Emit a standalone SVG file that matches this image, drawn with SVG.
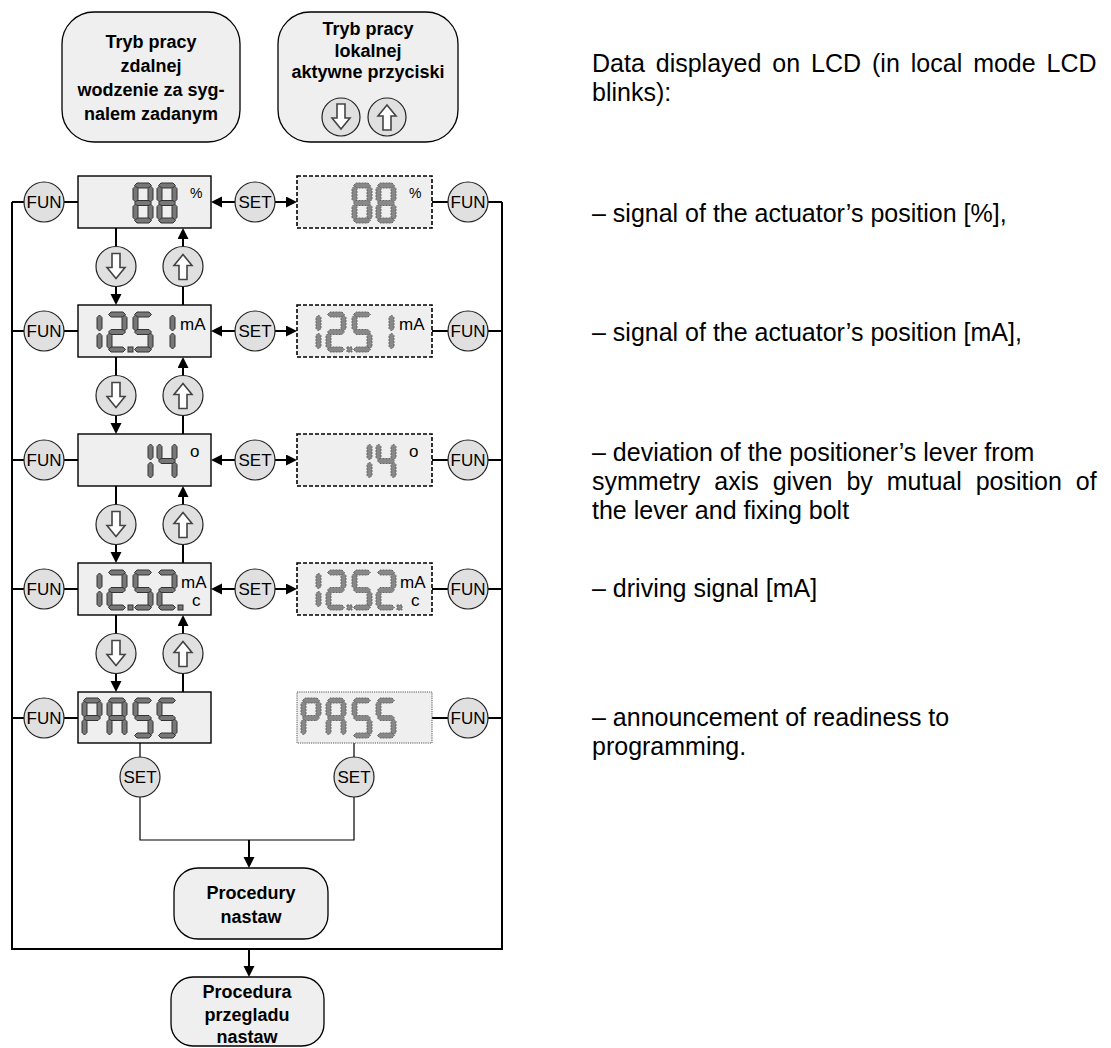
<svg xmlns="http://www.w3.org/2000/svg" xmlns:xlink="http://www.w3.org/1999/xlink" width="1111" height="1048" viewBox="0 0 1111 1048">
  <style>
    .txt{font-family:"Liberation Sans",Arial,Helvetica,sans-serif;fill:#000}
    .title{font-weight:bold;font-size:18px;text-anchor:middle}
    .mode{fill:#efefef;stroke:#000;stroke-width:1.3}
    .lcd{fill:#efefef;stroke:#000;stroke-width:1.4}
    .lcd-blink{fill:#efefef;stroke:#000;stroke-width:1.6;stroke-dasharray:4 2}
    .lcd-dot{fill:#efefef;stroke:#555;stroke-width:1;stroke-dasharray:1.2 1}
    .btn{fill:#e0e0e0;stroke:#222;stroke-width:1.2}
    .btn-t{font-size:17px;text-anchor:middle}
    .seg-on{fill:#777;stroke:#333;stroke-width:1}
    .seg-blink{fill:#888;stroke:#666;stroke-width:1;stroke-dasharray:2 1}
    .unit{font-size:17px}
    .pct{font-size:14px}
    .desc{font-size:25px}
    .wire{stroke:#000;stroke-width:2;fill:none}
    .wire-thin{stroke:#000;stroke-width:1.2;fill:none}
    .ico{fill:#fff;stroke:#444;stroke-width:1.6;stroke-linejoin:miter}
  </style>
  <defs>
    <marker id="ah" markerUnits="userSpaceOnUse" markerWidth="12" markerHeight="12" refX="9" refY="5.5" orient="auto">
      <path d="M0,0 L11,5.5 L0,11 z" fill="#000"/>
    </marker>
    <!-- seven-segment pieces, cell 20 x 40 -->
    <path id="sa" d="M1.5,2.5 L4,0 H16 L18.5,2.5 L16,5 H4 z"/>
    <path id="sg" d="M1.5,20 L4,17.5 H16 L18.5,20 L16,22.5 H4 z"/>
    <path id="sd" d="M1.5,37.5 L4,35 H16 L18.5,37.5 L16,40 H4 z"/>
    <path id="sf" d="M2.5,3 L5,5.5 V16.5 L2.5,19 L0,16.5 V5.5 z"/>
    <path id="sb" d="M17.5,3 L20,5.5 V16.5 L17.5,19 L15,16.5 V5.5 z"/>
    <path id="se" d="M2.5,21 L5,23.5 V34.5 L2.5,37 L0,34.5 V23.5 z"/>
    <path id="sc" d="M17.5,21 L20,23.5 V34.5 L17.5,37 L15,34.5 V23.5 z"/>
    <g id="g1"><use href="#sb"/><use href="#sc"/></g>
    <g id="g2"><use href="#sa"/><use href="#sb"/><use href="#sg"/><use href="#se"/><use href="#sd"/></g>
    <g id="g4"><use href="#sf"/><use href="#sg"/><use href="#sb"/><use href="#sc"/></g>
    <g id="g5"><use href="#sa"/><use href="#sf"/><use href="#sg"/><use href="#sc"/><use href="#sd"/></g>
    <g id="g8"><use href="#sa"/><use href="#sb"/><use href="#sc"/><use href="#sd"/><use href="#se"/><use href="#sf"/><use href="#sg"/></g>
    <g id="gP"><use href="#sa"/><use href="#sb"/><use href="#sf"/><use href="#sg"/><use href="#se"/></g>
    <g id="gA"><use href="#sa"/><use href="#sb"/><use href="#sc"/><use href="#se"/><use href="#sf"/><use href="#sg"/></g>
    <rect id="dp" width="5" height="5"/>
    <!-- push-button arrow glyphs -->
    <path id="icoDown" class="ico" d="M-4,-13 H4 V1 H9 L0,12 L-9,1 H-4 z"/>
    <path id="icoUp" class="ico" d="M-4,13 H4 V-1 H9 L0,-12 L-9,-1 H-4 z"/>
  </defs>

  <!-- operating mode headers -->
  <g id="mode-remote">
    <rect class="mode" x="62" y="12" width="178" height="130" rx="32" ry="32"/>
    <text class="txt title" x="151" y="48">Tryb pracy</text>
    <text class="txt title" x="151" y="72">zdalnej</text>
    <text class="txt title" x="151" y="96">wodzenie za syg-</text>
    <text class="txt title" x="151" y="120">nalem zadanym</text>
  </g>
  <g id="mode-local">
    <rect class="mode" x="278" y="12" width="180" height="130" rx="32" ry="32"/>
    <text class="txt title" x="368" y="35">Tryb pracy</text>
    <text class="txt title" x="368" y="57">lokalnej</text>
    <text class="txt title" x="368" y="78">aktywne przyciski</text>
    <circle class="btn" cx="341" cy="117" r="19"/>
    <use href="#icoDown" x="341" y="117"/>
    <circle class="btn" cx="387" cy="117" r="19"/>
    <use href="#icoUp" x="387" y="117"/>
  </g>

  <!-- connectors -->
  <g id="connectors">
    <path class="wire" d="M12,202 V949 H502 V202"/>
    <!-- row side links -->
    <path class="wire" d="M12,202 H24 M64,202 H78 M432,202 H448 M488,202 H502"/>
    <path class="wire" d="M12,331 H24 M64,331 H78 M432,331 H448 M488,331 H502"/>
    <path class="wire" d="M12,460 H24 M64,460 H78 M432,460 H448 M488,460 H502"/>
    <path class="wire" d="M12,589 H24 M64,589 H78 M432,589 H448 M488,589 H502"/>
    <path class="wire" d="M12,718 H24 M64,718 H78 M432,718 H448 M488,718 H502"/>
    <!-- SET links between remote and local displays -->
    <line class="wire" x1="235" y1="202" x2="213" y2="202" marker-end="url(#ah)"/>
    <line class="wire" x1="275" y1="202" x2="295" y2="202" marker-end="url(#ah)"/>
    <line class="wire" x1="235" y1="331" x2="213" y2="331" marker-end="url(#ah)"/>
    <line class="wire" x1="275" y1="331" x2="295" y2="331" marker-end="url(#ah)"/>
    <line class="wire" x1="235" y1="460" x2="213" y2="460" marker-end="url(#ah)"/>
    <line class="wire" x1="275" y1="460" x2="295" y2="460" marker-end="url(#ah)"/>
    <line class="wire" x1="235" y1="589" x2="213" y2="589" marker-end="url(#ah)"/>
    <line class="wire" x1="275" y1="589" x2="295" y2="589" marker-end="url(#ah)"/>
    <!-- down / up stepping -->
    <line class="wire" x1="116" y1="228" x2="116" y2="246.5"/>
    <line class="wire" x1="116" y1="286.5" x2="116" y2="303" marker-end="url(#ah)"/>
    <line class="wire" x1="183" y1="305" x2="183" y2="286.5"/>
    <line class="wire" x1="183" y1="246.5" x2="183" y2="230" marker-end="url(#ah)"/>
    <line class="wire" x1="116" y1="357" x2="116" y2="375.5"/>
    <line class="wire" x1="116" y1="415.5" x2="116" y2="432" marker-end="url(#ah)"/>
    <line class="wire" x1="183" y1="434" x2="183" y2="415.5"/>
    <line class="wire" x1="183" y1="375.5" x2="183" y2="359" marker-end="url(#ah)"/>
    <line class="wire" x1="116" y1="486" x2="116" y2="504.5"/>
    <line class="wire" x1="116" y1="544.5" x2="116" y2="561" marker-end="url(#ah)"/>
    <line class="wire" x1="183" y1="563" x2="183" y2="544.5"/>
    <line class="wire" x1="183" y1="504.5" x2="183" y2="488" marker-end="url(#ah)"/>
    <line class="wire" x1="116" y1="615" x2="116" y2="633.5"/>
    <line class="wire" x1="116" y1="673.5" x2="116" y2="690" marker-end="url(#ah)"/>
    <line class="wire" x1="183" y1="692" x2="183" y2="673.5"/>
    <line class="wire" x1="183" y1="633.5" x2="183" y2="617" marker-end="url(#ah)"/>
    <!-- PASS to settings -->
    <path class="wire-thin" d="M140,743 V757 M140,797 V840 H354 V797 M354,757 V743"/>
    <line class="wire" x1="249" y1="840" x2="249" y2="866" marker-end="url(#ah)"/>
    <line class="wire" x1="249" y1="949" x2="249" y2="975" marker-end="url(#ah)"/>
  </g>

  <!-- row 1 : position [%] -->
  <g id="row1">
    <rect class="lcd" x="78" y="176" width="133" height="52"/>
    <g class="seg-on"><use href="#g8" x="133" y="183"/><use href="#g8" x="157" y="183"/></g>
    <text class="txt pct" x="190" y="198">%</text>
    <rect class="lcd-blink" x="297" y="176" width="135" height="52"/>
    <g class="seg-blink"><use href="#g8" x="352" y="183"/><use href="#g8" x="376" y="183"/></g>
    <text class="txt pct" x="409" y="198">%</text>
  </g>
  <!-- row 2 : position [mA] -->
  <g id="row2">
    <rect class="lcd" x="78" y="305" width="133" height="52"/>
    <g class="seg-on"><use href="#g1" x="82" y="312"/><use href="#g2" x="107" y="312"/><use href="#dp" x="128" y="347"/><use href="#g5" x="133" y="312"/><use href="#g1" x="155" y="312"/></g>
    <text class="txt unit" x="180" y="330">mA</text>
    <rect class="lcd-blink" x="297" y="305" width="135" height="52"/>
    <g class="seg-blink"><use href="#g1" x="301" y="312"/><use href="#g2" x="326" y="312"/><use href="#dp" x="347" y="347"/><use href="#g5" x="352" y="312"/><use href="#g1" x="374" y="312"/></g>
    <text class="txt unit" x="399" y="330">mA</text>
  </g>
  <!-- row 3 : lever deviation -->
  <g id="row3">
    <rect class="lcd" x="78" y="434" width="133" height="52"/>
    <g class="seg-on"><use href="#g1" x="133" y="441"/><use href="#g4" x="157" y="441"/></g>
    <text class="txt unit" x="190" y="457">o</text>
    <rect class="lcd-blink" x="297" y="434" width="135" height="52"/>
    <g class="seg-blink"><use href="#g1" x="352" y="441"/><use href="#g4" x="376" y="441"/></g>
    <text class="txt unit" x="409" y="457">o</text>
  </g>
  <!-- row 4 : driving signal -->
  <g id="row4">
    <rect class="lcd" x="78" y="563" width="133" height="52"/>
    <g class="seg-on"><use href="#g1" x="82" y="570"/><use href="#g2" x="107" y="570"/><use href="#dp" x="128" y="605"/><use href="#g5" x="133" y="570"/><use href="#g2" x="157" y="570"/><use href="#dp" x="178" y="605"/></g>
    <text class="txt unit" x="181" y="588">mA</text>
    <text class="txt unit" x="192" y="606">c</text>
    <rect class="lcd-blink" x="297" y="563" width="135" height="52"/>
    <g class="seg-blink"><use href="#g1" x="301" y="570"/><use href="#g2" x="326" y="570"/><use href="#dp" x="347" y="605"/><use href="#g5" x="352" y="570"/><use href="#g2" x="376" y="570"/><use href="#dp" x="397" y="605"/></g>
    <text class="txt unit" x="400" y="588">mA</text>
    <text class="txt unit" x="411" y="606">c</text>
  </g>
  <!-- row 5 : PASS -->
  <g id="row5">
    <rect class="lcd" x="78" y="692" width="133" height="51"/>
    <g class="seg-on"><use href="#gP" x="82" y="698"/><use href="#gA" x="107" y="698"/><use href="#g5" x="133" y="698"/><use href="#g5" x="157" y="698"/></g>
    <rect class="lcd-dot" x="297" y="692" width="135" height="51"/>
    <g class="seg-blink"><use href="#gP" x="301" y="698"/><use href="#gA" x="326" y="698"/><use href="#g5" x="352" y="698"/><use href="#g5" x="376" y="698"/></g>
  </g>

  <!-- FUN buttons -->
  <g id="fun-left">
    <circle class="btn" cx="44" cy="202" r="20"/><text class="txt btn-t" x="44" y="208">FUN</text>
    <circle class="btn" cx="44" cy="331" r="20"/><text class="txt btn-t" x="44" y="337">FUN</text>
    <circle class="btn" cx="44" cy="460" r="20"/><text class="txt btn-t" x="44" y="466">FUN</text>
    <circle class="btn" cx="44" cy="589" r="20"/><text class="txt btn-t" x="44" y="595">FUN</text>
    <circle class="btn" cx="44" cy="718" r="20"/><text class="txt btn-t" x="44" y="724">FUN</text>
  </g>
  <g id="fun-right">
    <circle class="btn" cx="468" cy="202" r="20"/><text class="txt btn-t" x="468" y="208">FUN</text>
    <circle class="btn" cx="468" cy="331" r="20"/><text class="txt btn-t" x="468" y="337">FUN</text>
    <circle class="btn" cx="468" cy="460" r="20"/><text class="txt btn-t" x="468" y="466">FUN</text>
    <circle class="btn" cx="468" cy="589" r="20"/><text class="txt btn-t" x="468" y="595">FUN</text>
    <circle class="btn" cx="468" cy="718" r="20"/><text class="txt btn-t" x="468" y="724">FUN</text>
  </g>
  <!-- SET buttons -->
  <g id="set-buttons">
    <circle class="btn" cx="255" cy="202" r="20"/><text class="txt btn-t" x="255" y="208">SET</text>
    <circle class="btn" cx="255" cy="331" r="20"/><text class="txt btn-t" x="255" y="337">SET</text>
    <circle class="btn" cx="255" cy="460" r="20"/><text class="txt btn-t" x="255" y="466">SET</text>
    <circle class="btn" cx="255" cy="589" r="20"/><text class="txt btn-t" x="255" y="595">SET</text>
    <circle class="btn" cx="140" cy="777" r="20"/><text class="txt btn-t" x="140" y="783">SET</text>
    <circle class="btn" cx="354" cy="777" r="20"/><text class="txt btn-t" x="354" y="783">SET</text>
  </g>
  <!-- down / up buttons -->
  <g id="step-buttons">
    <circle class="btn" cx="116" cy="266.5" r="20"/><use href="#icoDown" x="116" y="266.5"/>
    <circle class="btn" cx="183" cy="266.5" r="20"/><use href="#icoUp" x="183" y="266.5"/>
    <circle class="btn" cx="116" cy="395.5" r="20"/><use href="#icoDown" x="116" y="395.5"/>
    <circle class="btn" cx="183" cy="395.5" r="20"/><use href="#icoUp" x="183" y="395.5"/>
    <circle class="btn" cx="116" cy="524.5" r="20"/><use href="#icoDown" x="116" y="524.5"/>
    <circle class="btn" cx="183" cy="524.5" r="20"/><use href="#icoUp" x="183" y="524.5"/>
    <circle class="btn" cx="116" cy="653.5" r="20"/><use href="#icoDown" x="116" y="653.5"/>
    <circle class="btn" cx="183" cy="653.5" r="20"/><use href="#icoUp" x="183" y="653.5"/>
  </g>

  <!-- settings procedures -->
  <g id="proc-settings">
    <rect class="mode" x="174" y="868" width="154" height="71" rx="24" ry="24"/>
    <text class="txt title" x="251" y="899">Procedury</text>
    <text class="txt title" x="251" y="923">nastaw</text>
  </g>
  <g id="proc-review">
    <rect class="mode" x="171" y="977" width="153" height="69" rx="22" ry="22"/>
    <text class="txt title" x="247" y="998">Procedura</text>
    <text class="txt title" x="247" y="1021">przegladu</text>
    <text class="txt title" x="247" y="1043">nastaw</text>
  </g>

  <!-- legend (justified lines widened with word-spacing) -->
  <g id="legend" class="txt desc">
    <text x="592" y="72" word-spacing="4">Data displayed on LCD (in local mode LCD</text>
    <text x="592" y="101">blinks):</text>
    <text x="592" y="222">– signal of the actuator’s position [%],</text>
    <text x="592" y="341">– signal of the actuator’s position [mA],</text>
    <text x="592" y="461">– deviation of the positioner’s lever from</text>
    <text x="592" y="490" word-spacing="7">symmetry axis given by mutual position of</text>
    <text x="592" y="519">the lever and fixing bolt</text>
    <text x="592" y="597">– driving signal [mA]</text>
    <text x="592" y="726">– announcement of readiness to</text>
    <text x="592" y="755">programming.</text>
  </g>
</svg>
